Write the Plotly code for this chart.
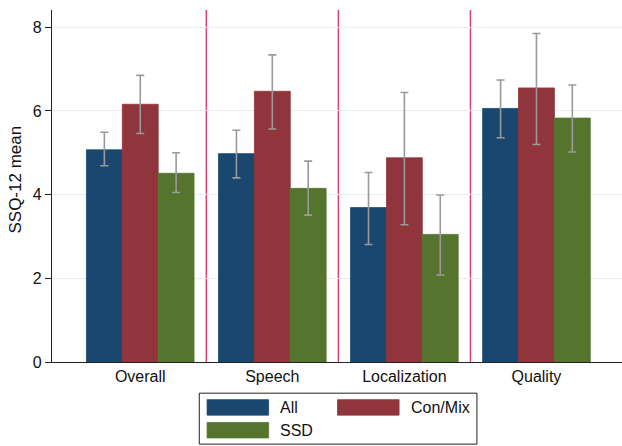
import plotly.graph_objects as go

# SSQ-12 domain means with 95% CI bounds per hearing group
domains = ["Overall", "Speech", "Localization", "Quality"]
groups = ["All", "Con/Mix", "SSD"]
colors = ["#1a476f", "#90353b", "#55752f"]

mean_all = [5.07, 4.98, 3.69, 6.06]
upper_all = [5.49, 5.54, 4.53, 6.74]
lower_all = [4.69, 4.40, 2.81, 5.36]

mean_conmix = [6.16, 6.47, 4.88, 6.55]
upper_conmix = [6.85, 7.34, 6.44, 7.85]
lower_conmix = [5.46, 5.57, 3.28, 5.20]

mean_ssd = [4.51, 4.15, 3.05, 5.83]
upper_ssd = [5.00, 4.80, 3.99, 6.62]
lower_ssd = [4.05, 3.51, 2.08, 5.02]

y_ticks = [0, 2, 4, 6, 8]

means = [mean_all, mean_conmix, mean_ssd]
uppers = [upper_all, upper_conmix, upper_ssd]
lowers = [lower_all, lower_conmix, lower_ssd]

W, H = 622, 446
ML, MR, MT, MB = 52.3, 0, 10, 83.7
PW, PH = W - ML - MR, H - MT - MB

FONT = "Arial, Liberation Sans, sans-serif"


def px_x(p):
    return (p - ML) / PW


def px_y(p):
    return (H - MB - p) / PH


xpos = list(range(len(domains)))

fig = go.Figure()
for name, color, m, u, lo in zip(groups, colors, means, uppers, lowers):
    fig.add_trace(go.Bar(
        x=xpos, y=m, name=name,
        marker=dict(color=color, line=dict(color=color, width=0.8)),
        error_y=dict(
            type="data", symmetric=False,
            array=[a - b for a, b in zip(u, m)],
            arrayminus=[b - c for b, c in zip(m, lo)],
            color="#9a9a9a", thickness=1.6, width=4,
        ),
        showlegend=False,
    ))

# vertical separators between domains
shapes = []
for k in range(len(domains) - 1):
    shapes.append(dict(type="line", xref="x", yref="paper",
                       x0=k + 0.5, x1=k + 0.5, y0=0, y1=1,
                       line=dict(color="#de3d6c", width=1.4), layer="below"))

# boxed legend below the plot
annotations = []
shapes.append(dict(type="rect", xref="paper", yref="paper",
                   x0=px_x(199.5), x1=px_x(477), y0=px_y(393.5), y1=px_y(444.5),
                   line=dict(color="#222222", width=1), fillcolor="white"))
legend_slots = [
    (207.3, 400.0, 278.5),   # All
    (337.7, 400.0, 409.0),   # Con/Mix
    (207.3, 422.8, 278.5),   # SSD
]
for name, color, (sx, sy, tx) in zip(groups, colors, legend_slots):
    shapes.append(dict(type="rect", xref="paper", yref="paper",
                       x0=px_x(sx), x1=px_x(sx + 61.5), y0=px_y(sy), y1=px_y(sy + 15.5),
                       line=dict(color=color, width=0.8), fillcolor=color))
    annotations.append(dict(xref="paper", yref="paper", x=px_x(tx), y=px_y(sy + 8),
                            text=name, showarrow=False, xanchor="left", yanchor="middle",
                            font=dict(family=FONT, size=16, color="#111111")))

annotations.append(dict(xref="paper", yref="paper", x=px_x(16), y=px_y(180),
                        text="SSQ-12 mean", textangle=-90, showarrow=False,
                        xanchor="center", yanchor="middle",
                        font=dict(family=FONT, size=17, color="#111111")))

fig.update_layout(
    width=W, height=H,
    margin=dict(l=ML, r=MR, t=MT, b=MB, pad=0),
    paper_bgcolor="white", plot_bgcolor="white",
    barmode="group", bargap=0.185, bargroupgap=0,
    shapes=shapes, annotations=annotations,
    font=dict(family=FONT, size=16, color="#111111"),
)
fig.update_xaxes(
    range=[-(140.5 - ML) / 132, -(140.5 - ML) / 132 + PW / 132],
    tickvals=xpos, ticktext=domains, ticks="",
    showgrid=False, zeroline=False,
    showline=True, linecolor="#222222", linewidth=1.3,
    tickfont=dict(family=FONT, size=16, color="#111111"),
)
fig.update_yaxes(
    range=[0, (H - MB - MT) / 41.875],
    tickvals=y_ticks, ticks="outside", ticklen=6, tickwidth=1.2, tickcolor="#222222",
    showgrid=True, gridcolor="#e6eef1", gridwidth=1, zeroline=False,
    showline=True, linecolor="#222222", linewidth=1.3,
    tickfont=dict(family=FONT, size=16, color="#111111"),
)

fig.write_html("out.html")
